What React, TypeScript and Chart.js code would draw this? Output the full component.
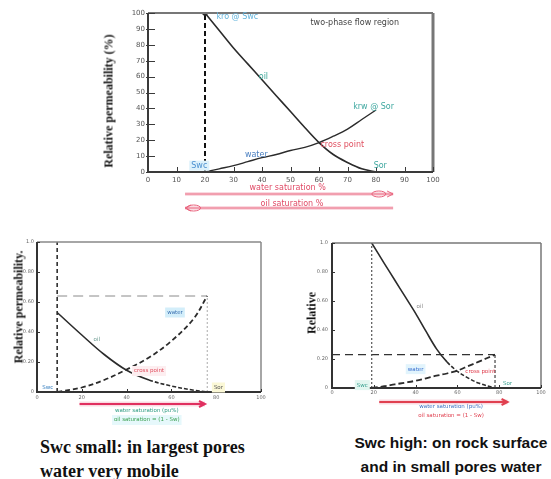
import React, { useEffect, useRef } from "react";
import { Chart, registerables } from "chart.js";
Chart.register(...registerables);

// ---------------- Top chart (percent) ----------------
const TOP_SW = [20, 25, 30, 35, 40, 45, 50, 55, 60, 65, 70, 75, 80];
const TOP_KRO = [100, 89, 78, 68, 58, 48, 38, 28, 18.5, 11, 6, 2, 0];
const TOP_KRW = [0, 2, 4, 6.5, 9, 11, 13.5, 15.5, 18.5, 22.5, 27, 33, 39];
const TOP_X_TICKS = [0, 10, 20, 30, 40, 50, 60, 70, 80, 90, 100];
const TOP_X_LABELS = ["0", "10", "20", "30", "40", "50", "60", "70", "80", "90", "100"];
const TOP_Y_TICKS = [0, 10, 20, 30, 40, 50, 60, 70, 80, 90, 100];
const TOP_Y_LABELS = ["0", "10", "20", "30", "40", "50", "60", "70", "80", "90", "100"];

// ---------------- Bottom-left chart (Swc small) ----------------
const BL_SW = [9, 20, 30, 40, 50, 60, 70, 76];
const BL_KRO = [0.53, 0.38, 0.25, 0.145, 0.08, 0.04, 0.012, 0];
const BL_KRW = [0, 0.03, 0.08, 0.15, 0.23, 0.34, 0.49, 0.64];

// ---------------- Bottom-right chart (Swc high) ----------------
const BR_SW = [19, 25, 30, 35, 40, 45, 50, 55, 60, 65, 70, 78];
const BR_KRO = [1.0, 0.86, 0.745, 0.63, 0.515, 0.39, 0.27, 0.18, 0.115, 0.07, 0.035, 0];
const BR_KRW = [0, 0.012, 0.025, 0.037, 0.05, 0.067, 0.085, 0.1, 0.12, 0.15, 0.18, 0.23];

const FRAC_X_TICKS = [0, 20, 40, 60, 80, 100];
const FRAC_X_LABELS = ["0", "20", "40", "60", "80", "100"];
const FRAC_Y_TICKS = [0, 0.2, 0.4, 0.6, 0.8, 1.0];
const FRAC_Y_LABELS = ["0", "0.20", "0.40", "0.60", "0.80", "1.0"];

type Ann = { text: string; x: number; y?: number; dy?: number; color: string; bg?: string; align?: CanvasTextAlign; font?: string };
type Arrow = { x0: number; x1: number; dy: number; color: string; width: number; head: "right" | "left"; ellipseAt?: number };

type Spec = {
  box: { left: number; top: number; width: number; height: number };
  pad: { left: number; right: number; top: number; bottom: number };
  xMax: number; yMax: number;
  xTicks: number[]; xLabels: string[]; yTicks: number[]; yLabels: string[];
  tickFont: string; tickColor: string; yTickIn: number; yTickOut: number; xTickLen: number;
  xLabelDy: number; yLabelDx: number;
  frameColor: string; frameWidth: number; axisColor: string; axisWidth: number; rightWidth: number;
  annFont: string;
  anns: Ann[]; arrows: Arrow[];
  datasets: any[];
};

const pts = (xs: number[], ys: number[]) => xs.map((x, i) => ({ x, y: ys[i] }));

function decorPlugin(spec: Spec) {
  return {
    id: "decor",
    afterDatasetsDraw(chart: any) {
      const { ctx, chartArea: a, scales } = chart;
      const sx = scales.x, sy = scales.y;
      ctx.save();
      // frame
      ctx.strokeStyle = spec.frameColor;
      ctx.lineWidth = spec.frameWidth;
      ctx.beginPath();
      ctx.moveTo(a.left, a.top);
      ctx.lineTo(a.right, a.top);
      ctx.stroke();
      ctx.lineWidth = spec.rightWidth;
      ctx.beginPath();
      ctx.moveTo(a.right, a.top);
      ctx.lineTo(a.right, a.bottom);
      ctx.stroke();
      ctx.strokeStyle = spec.axisColor;
      ctx.lineWidth = spec.axisWidth;
      ctx.beginPath();
      ctx.moveTo(a.left, a.top);
      ctx.lineTo(a.left, a.bottom);
      ctx.lineTo(a.right, a.bottom);
      ctx.stroke();
      // ticks
      ctx.lineWidth = 1;
      ctx.strokeStyle = spec.axisColor;
      spec.yTicks.forEach((v) => {
        const py = Math.round(sy.getPixelForValue(v)) + 0.5;
        ctx.beginPath();
        ctx.moveTo(a.left - spec.yTickOut, py);
        ctx.lineTo(a.left + spec.yTickIn, py);
        ctx.stroke();
      });
      spec.xTicks.forEach((v) => {
        const px = Math.round(sx.getPixelForValue(v)) + 0.5;
        ctx.beginPath();
        ctx.moveTo(px, a.bottom);
        ctx.lineTo(px, a.bottom - spec.xTickLen);
        ctx.stroke();
      });
      // tick labels
      ctx.font = spec.tickFont;
      ctx.fillStyle = spec.tickColor;
      ctx.textBaseline = "middle";
      ctx.textAlign = "right";
      spec.yTicks.forEach((v, i) => {
        ctx.fillText(spec.yLabels[i], a.left - spec.yLabelDx, sy.getPixelForValue(v));
      });
      ctx.textAlign = "center";
      spec.xTicks.forEach((v, i) => {
        ctx.fillText(spec.xLabels[i], sx.getPixelForValue(v), a.bottom + spec.xLabelDy);
      });
      // annotations
      spec.anns.forEach((n) => {
        ctx.font = n.font || spec.annFont;
        ctx.textAlign = n.align || "center";
        ctx.textBaseline = "middle";
        const px = sx.getPixelForValue(n.x);
        const py = n.dy !== undefined ? a.bottom + n.dy : sy.getPixelForValue(n.y as number);
        if (n.bg) {
          const w = ctx.measureText(n.text).width;
          const left = ctx.textAlign === "center" ? px - w / 2 : ctx.textAlign === "right" ? px - w : px;
          ctx.fillStyle = n.bg;
          ctx.fillRect(left - 2, py - 5, w + 4, 10);
        }
        ctx.fillStyle = n.color;
        ctx.fillText(n.text, px, py);
      });
      // arrows
      spec.arrows.forEach((ar) => {
        const x0 = sx.getPixelForValue(ar.x0);
        const x1 = sx.getPixelForValue(ar.x1);
        const py = a.bottom + ar.dy;
        ctx.strokeStyle = "rgba(240,150,170,0.35)";
        ctx.lineWidth = ar.width + 3;
        ctx.beginPath();
        ctx.moveTo(x0, py);
        ctx.lineTo(x1, py);
        ctx.stroke();
        ctx.strokeStyle = ar.color;
        ctx.lineWidth = ar.width;
        ctx.beginPath();
        ctx.moveTo(x0, py);
        ctx.lineTo(x1, py);
        ctx.stroke();
        const tip = ar.head === "right" ? x1 : x0;
        const d = ar.head === "right" ? -1 : 1;
        ctx.beginPath();
        ctx.moveTo(tip + d * 6, py - 3);
        ctx.lineTo(tip, py);
        ctx.lineTo(tip + d * 6, py + 3);
        ctx.stroke();
        if (ar.ellipseAt !== undefined) {
          const ex = sx.getPixelForValue(ar.ellipseAt);
          ctx.lineWidth = 1;
          ctx.beginPath();
          ctx.ellipse(ex, py, 7, 3, 0, 0, Math.PI * 2);
          ctx.stroke();
        }
      });
      ctx.restore();
    },
  };
}

function Panel({ spec }: { spec: Spec }) {
  const ref = useRef<HTMLCanvasElement | null>(null);
  useEffect(() => {
    if (!ref.current) return;
    const chart = new Chart(ref.current, {
      type: "line",
      data: { datasets: spec.datasets },
      options: {
        responsive: false,
        animation: false,
        layout: { padding: spec.pad },
        plugins: { legend: { display: false }, tooltip: { enabled: false }, title: { display: false } },
        scales: {
          x: { type: "linear", min: 0, max: spec.xMax, display: false },
          y: { type: "linear", min: 0, max: spec.yMax, display: false },
        },
        elements: { point: { radius: 0 } },
      },
      plugins: [decorPlugin(spec)],
    } as any);
    return () => chart.destroy();
  }, []);
  return (
    <canvas
      ref={ref}
      width={spec.box.width}
      height={spec.box.height}
      style={{ position: "absolute", left: spec.box.left, top: spec.box.top, width: spec.box.width, height: spec.box.height }}
    />
  );
}

const CURVE = "#2b2b2b";
const TENSION = 0.35;

const TOP_SPEC: Spec = {
  box: { left: 90, top: 0, width: 360, height: 220 },
  pad: { left: 58, right: 17, top: 13, bottom: 48 },
  xMax: 100, yMax: 100,
  xTicks: TOP_X_TICKS, xLabels: TOP_X_LABELS, yTicks: TOP_Y_TICKS, yLabels: TOP_Y_LABELS,
  tickFont: '7px "DejaVu Sans"', tickColor: "#555", yTickIn: 7, yTickOut: 2, xTickLen: 5,
  xLabelDy: 8, yLabelDx: 3,
  frameColor: "#777", frameWidth: 2, axisColor: "#3a3a3a", axisWidth: 2, rightWidth: 3,
  annFont: '8px "DejaVu Sans"',
  anns: [
    { text: "kro @ Swc", x: 24, y: 97.5, color: "#62b4dc", align: "left" },
    { text: "oil", x: 40.5, y: 60, color: "#3fa89a" },
    { text: "two-phase flow region", x: 57, y: 94, color: "#444", align: "left" },
    { text: "krw @ Sor", x: 72, y: 41, color: "#3fa8a0", align: "left" },
    { text: "cross point", x: 60.5, y: 17, color: "#e05060", align: "left" },
    { text: "water", x: 38, y: 10.7, color: "#4a7fc0" },
    { text: "Swc", x: 18, y: 4, color: "#4a90d0", bg: "#dcf1fb" },
    { text: "Sor", x: 81.5, y: 4, color: "#3fa8a0" },
    { text: "water saturation %", x: 49, dy: 16, color: "#e04a66" },
    { text: "oil saturation %", x: 50.5, dy: 32, color: "#e04a66" },
  ],
  arrows: [
    { x0: 13, x1: 86, dy: 22, color: "#e8627c", width: 1, head: "right", ellipseAt: 81 },
    { x0: 13, x1: 86, dy: 36, color: "#e8627c", width: 1, head: "left", ellipseAt: 16 },
  ],
  datasets: [
    { data: pts(TOP_SW, TOP_KRO), borderColor: CURVE, borderWidth: 1.6, tension: TENSION, pointRadius: (c: any) => (c.dataIndex === 0 ? 2 : 0), pointBackgroundColor: CURVE },
    { data: pts(TOP_SW, TOP_KRW), borderColor: CURVE, borderWidth: 1.4, tension: TENSION },
    { data: [{ x: TOP_SW[0], y: 0 }, { x: TOP_SW[0], y: 100 }], borderColor: "#111", borderWidth: 2, borderDash: [5, 3] },
  ],
};

const BL_SPEC: Spec = {
  box: { left: 0, top: 225, width: 280, height: 205 },
  pad: { left: 37, right: 19, top: 17, bottom: 38 },
  xMax: 100, yMax: 1,
  xTicks: FRAC_X_TICKS, xLabels: FRAC_X_LABELS, yTicks: FRAC_Y_TICKS, yLabels: FRAC_Y_LABELS,
  tickFont: '5px "DejaVu Sans"', tickColor: "#666", yTickIn: 3, yTickOut: 1, xTickLen: 3,
  xLabelDy: 6, yLabelDx: 3,
  frameColor: "#888", frameWidth: 1.5, axisColor: "#333", axisWidth: 2, rightWidth: 1.5,
  annFont: '5.5px "DejaVu Sans"',
  anns: [
    { text: "oil", x: 26.7, y: 0.35, color: "#6a9a90" },
    { text: "water", x: 61.6, y: 0.53, color: "#3a70b0", bg: "#d3eefa" },
    { text: "cross point", x: 50, y: 0.14, color: "#e05060", bg: "#fdeef0" },
    { text: "Swc", x: 4.8, y: 0.03, color: "#3a80c0" },
    { text: "Sor", x: 81, y: 0.03, color: "#555", bg: "#fbf8d6" },
    { text: "water saturation (pu%)", x: 49, dy: 19, color: "#2a9a80" },
    { text: "oil saturation = (1 - Sw)", x: 49, dy: 28, color: "#3aa050", bg: "#e6f8fb" },
  ],
  arrows: [{ x0: 19, x1: 75, dy: 12, color: "#e03060", width: 2, head: "right" }],
  datasets: [
    {
      data: pts(BL_SW, BL_KRO), borderColor: CURVE, borderWidth: 1.6, tension: TENSION,
      segment: { borderDash: (c: any) => (c.p0.parsed.x >= 50 ? [4, 2] : undefined) },
    },
    { data: pts(BL_SW, BL_KRW), borderColor: CURVE, borderWidth: 1.8, borderDash: [5, 3], tension: TENSION },
    { data: [{ x: BL_SW[0], y: 0 }, { x: BL_SW[0], y: 1 }], borderColor: "#222", borderWidth: 1.5, borderDash: [4, 3] },
    { data: [{ x: BL_SW[0], y: BL_KRW[BL_KRW.length - 1] }, { x: BL_SW[BL_SW.length - 1], y: BL_KRW[BL_KRW.length - 1] }], borderColor: "#8a8a8a", borderWidth: 1, borderDash: [10, 6] },
    { data: [{ x: BL_SW[BL_SW.length - 1], y: 0 }, { x: BL_SW[BL_SW.length - 1], y: BL_KRW[BL_KRW.length - 1] }], borderColor: "#aaa", borderWidth: 1, borderDash: [2, 2] },
  ],
};

const BR_SPEC: Spec = {
  box: { left: 290, top: 225, width: 261, height: 205 },
  pad: { left: 42, right: 10, top: 18, bottom: 42 },
  xMax: 100, yMax: 1,
  xTicks: FRAC_X_TICKS, xLabels: FRAC_X_LABELS, yTicks: FRAC_Y_TICKS, yLabels: FRAC_Y_LABELS,
  tickFont: '5px "DejaVu Sans"', tickColor: "#666", yTickIn: 3, yTickOut: 1, xTickLen: 3,
  xLabelDy: 5, yLabelDx: 4,
  frameColor: "#777", frameWidth: 1.5, axisColor: "#333", axisWidth: 2, rightWidth: 1.5,
  annFont: '5.5px "DejaVu Sans"',
  anns: [
    { text: "oil", x: 42, y: 0.56, color: "#888" },
    { text: "water", x: 40, y: 0.13, color: "#3a70d0", bg: "#e2f4fc" },
    { text: "cross point", x: 71, y: 0.11, color: "#e04050" },
    { text: "Swc", x: 14.5, y: 0.02, color: "#3aa090", bg: "#e2f6f0" },
    { text: "Sor", x: 84, y: 0.03, color: "#3aa090" },
    { text: "water saturation (pu%)", x: 57, dy: 19, color: "#3a70c0" },
    { text: "oil saturation = (1 - Sw)", x: 57, dy: 28, color: "#e04050" },
  ],
  arrows: [{ x0: 22.6, x1: 84, dy: 14, color: "#e04050", width: 2, head: "right" }],
  datasets: [
    {
      data: pts(BR_SW, BR_KRO), borderColor: CURVE, borderWidth: 1.6, tension: TENSION,
      segment: { borderDash: (c: any) => (c.p0.parsed.x >= 55 ? [4, 2] : undefined) },
    },
    { data: pts(BR_SW, BR_KRW), borderColor: CURVE, borderWidth: 1.8, borderDash: [6, 3], tension: TENSION },
    { data: [{ x: BR_SW[0], y: 0 }, { x: BR_SW[0], y: 1 }], borderColor: "#555", borderWidth: 1.2, borderDash: [2, 2] },
    { data: [{ x: 0, y: BR_KRW[BR_KRW.length - 1] }, { x: BR_SW[BR_SW.length - 1], y: BR_KRW[BR_KRW.length - 1] }], borderColor: "#333", borderWidth: 1.2, borderDash: [8, 5] },
    { data: [{ x: BR_SW[BR_SW.length - 1], y: 0 }, { x: BR_SW[BR_SW.length - 1], y: BR_KRW[BR_KRW.length - 1] }], borderColor: "#444", borderWidth: 1.2, borderDash: [3, 2] },
  ],
};

function VTitle({ text, cx, cy, size }: { text: string; cx: number; cy: number; size: number }) {
  return (
    <div
      style={{
        position: "absolute", left: cx, top: cy, transform: "translate(-50%, -50%) rotate(-90deg)",
        whiteSpace: "nowrap", font: `bold ${size}px "Liberation Serif", serif`, color: "#111",
      }}
    >
      {text}
    </div>
  );
}

export default function App() {
  return (
    <div style={{ position: "fixed", left: 0, top: 0, width: 551, height: 479, background: "#fff", overflow: "hidden" }}>
      <Panel spec={TOP_SPEC} />
      <Panel spec={BL_SPEC} />
      <Panel spec={BR_SPEC} />
      <VTitle text="Relative permeability (%)" cx={109} cy={101} size={12} />
      <VTitle text="Relative permeability." cx={19} cy={307} size={12} />
      <VTitle text="Relative" cx={312} cy={313} size={12} />
      <div style={{ position: "absolute", left: 40, top: 435, font: 'bold 18px "Liberation Serif", serif', lineHeight: "24px", color: "#111", whiteSpace: "nowrap" }}>
        Swc small: in largest pores
        <br />
        water very mobile
      </div>
      <div style={{ position: "absolute", left: 346, width: 210, top: 431, font: 'bold 15.5px "Liberation Sans", sans-serif', lineHeight: "24px", color: "#111", whiteSpace: "nowrap", textAlign: "center" }}>
        Swc high: on rock surface
        <br />
        and in small pores water
      </div>
    </div>
  );
}
